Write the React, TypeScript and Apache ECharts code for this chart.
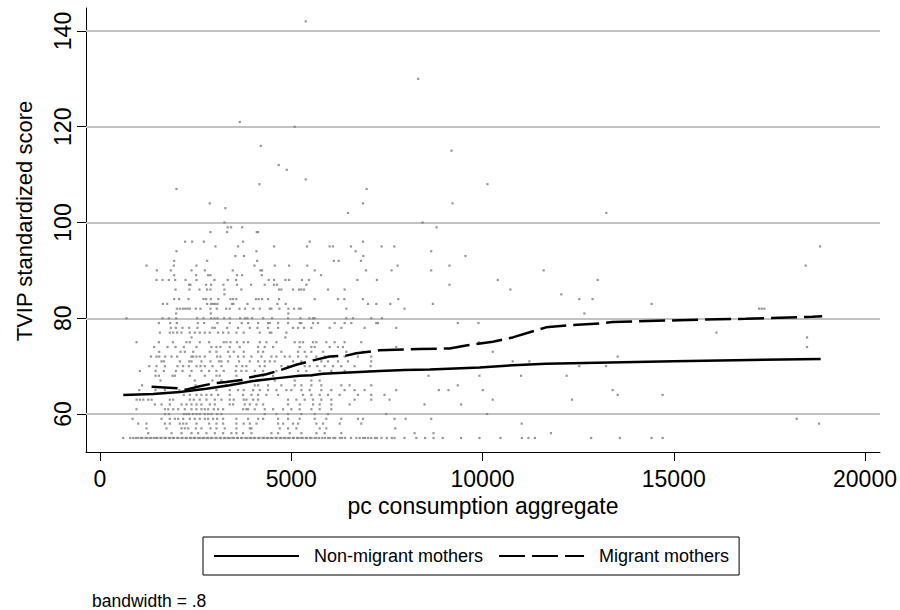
import React, { useEffect, useRef } from "react";
import * as echarts from "echarts";

const xTicks = [0, 5000, 10000, 15000, 20000];
const yTicks = [60, 80, 100, 120, 140];

const nonMigrantX = [610, 1390, 2090, 2780, 3390, 3790, 4000, 4650, 5220, 5530, 5830, 7310, 7960, 8620, 9920, 10790, 11660, 13000, 15000, 17000, 18840];
const nonMigrantY = [64.0, 64.2, 64.6, 65.3, 66.0, 66.6, 66.9, 67.5, 68.0, 68.1, 68.4, 69.0, 69.2, 69.3, 69.7, 70.2, 70.5, 70.7, 71.0, 71.3, 71.5];

const migrantX = [1350, 2090, 2250, 2610, 2960, 3300, 3700, 3870, 4350, 4650, 5130, 5570, 6000, 6440, 6700, 7310, 8350, 9140, 9570, 10270, 10790, 11660, 12360, 13050, 13400, 15140, 16880, 18620, 18880];
const migrantY = [65.7, 65.35, 65.1, 65.8, 66.4, 66.7, 67.1, 67.6, 68.3, 69.0, 70.3, 71.2, 72.0, 72.2, 72.7, 73.3, 73.6, 73.7, 74.3, 75.1, 76.0, 78.1, 78.6, 78.9, 79.2, 79.6, 79.9, 80.3, 80.4];

const rowScores = [55, 56, 57, 58, 59, 60, 61, 62, 63, 64, 65, 66, 67, 68, 69, 70, 71, 72, 73, 74, 75, 76, 77, 78, 79, 80, 81, 82, 83, 84, 85, 86, 87, 88, 89, 90, 91, 92, 93, 94];
const rowIncomes = [
  [608, 790, 870, 940, 1000, 1070, 1110, 1190, 1230, 1300, 1340, 1410, 1470, 1500, 1580, 1610, 1690, 1720, 1800, 1840, 1910, 1940, 2020, 2050, 2130, 2160, 2240, 2270, 2350, 2390, 2460, 2490, 2570, 2610, 2680, 2720, 2790, 2830, 2900, 2940, 3020, 3050, 3130, 3160, 3240, 3280, 3350, 3390, 3460, 3500, 3580, 3610, 3690, 3720, 3800, 3840, 3910, 3950, 4020, 4060, 4140, 4170, 4250, 4290, 4360, 4400, 4470, 4510, 4590, 4620, 4700, 4740, 4810, 4850, 4920, 4960, 5040, 5070, 5150, 5190, 5260, 5300, 5380, 5410, 5490, 5530, 5610, 5660, 5730, 5810, 5880, 5960, 6010, 6100, 6150, 6270, 6330, 6410, 6560, 6700, 6790, 6880, 6930, 7010, 7090, 7190, 7240, 7360, 7500, 7630, 7700, 7960, 8270, 8500, 8720, 8960, 9440, 9920, 10470, 11030, 11200, 11370, 12840, 13590, 14420, 14710],
  [1262, 1871, 2132, 2393, 2567, 2784, 3002, 3219, 3436, 3567, 3741, 3960, 4482, 4656, 4961, 5265, 5657, 5874, 6309, 8224, 8719, 11790],
  [1217, 1740, 2132, 2219, 2306, 2506, 2653, 2888, 3045, 3262, 3567, 3917, 3960, 4700, 4917, 5135, 5744, 5918, 7719],
  [1000, 1217, 1697, 1827, 2088, 2175, 2262, 2523, 2854, 3045, 3219, 3567, 3758, 3917, 4091, 4656, 4787, 5048, 5178, 5657, 5831, 6266, 6831, 11025, 18797],
  [852, 1610, 1827, 1957, 2045, 2175, 2349, 2479, 2610, 2741, 2828, 2958, 3062, 3219, 3567, 3873, 4134, 4265, 4656, 4917, 5222, 5613, 5918, 6309, 6744, 6875, 7701, 7989, 8659, 18214],
  [1697, 1801, 2192, 2262, 2332, 2436, 2523, 2610, 2741, 2828, 2914, 3062, 3175, 4308, 4613, 4917, 5265, 5613, 5961, 7484, 10120],
  [956, 1697, 1784, 1914, 2045, 2219, 2393, 2523, 2653, 2741, 2828, 2975, 3088, 3219, 3741, 3828, 3873, 4047, 4308, 4526, 4787, 5004, 5222, 5526, 5744, 6048],
  [1436, 1610, 1827, 2132, 2262, 2393, 2523, 2653, 2871, 3002, 3393, 3480, 3784, 3917, 4091, 4265, 4917, 5222, 5570, 5744, 6048, 6527, 8485, 9442],
  [957, 1044, 1131, 1262, 1349, 1827, 1914, 2349, 2453, 2610, 2784, 3002, 3175, 3393, 3497, 3758, 3830, 4004, 4134, 4917, 5135, 5352, 5570, 5787, 6048, 6657, 7092, 7571, 10268, 12339],
  [2192, 2349, 2523, 2653, 2784, 2914, 3088, 3393, 3741, 3960, 4134, 4352, 4656, 5309, 5526, 5744, 5961, 6266, 6744, 7092, 7440, 13534, 14708],
  [1027, 1453, 1697, 2071, 2262, 3045, 3393, 3610, 3758, 4004, 4178, 4395, 4613, 4874, 5004, 5265, 5483, 5787, 6048, 6396, 6657, 6918, 7745, 8859, 9111, 10007, 13403],
  [1100, 2500, 3300, 4047, 4134, 4395, 4743, 5091, 5265, 5526, 5787, 6309, 6527, 7092, 9355],
  [1583, 2479, 2941, 3175, 4569, 5091, 5526, 5744],
  [1453, 1540, 1897, 1957, 2349, 2741, 3045, 3132, 3567, 4047, 4265, 4526, 5526, 8589, 9920, 11008, 12199],
  [1043, 1453, 1671, 1984, 2158, 2393, 2653, 2854, 3045, 3236, 3550, 3697, 3828, 4047, 4265, 4613, 5178, 5396, 5744, 6048, 6396, 7049, 7440],
  [1288, 1479, 1697, 2027, 2175, 2323, 2523, 2627, 2741, 2941, 3175, 3567, 3723, 3828, 4178, 4308, 4743, 4917, 5352, 5483, 5683, 5874, 6092, 6309, 6657, 7075, 12530, 13229],
  [1610, 1671, 2088, 2332, 2393, 2653, 2888, 3115, 3175, 3350, 3636, 3917, 4134, 4308, 4439, 4569, 5048, 5265, 5787, 5961, 6222, 6483, 7092, 10790, 11225],
  [1331, 1479, 1549, 1705, 1871, 2018, 2393, 2436, 2523, 2610, 2741, 3062, 3149, 3393, 3610, 3758, 3960, 4221, 4482, 4613, 4830, 4961, 5178, 5396, 5657, 5874, 6092, 6396, 6744, 7092, 13534],
  [1549, 2106, 2219, 2436, 2871, 3045, 3350, 3497, 3758, 4134, 4265, 4743, 5178, 5352, 5526, 5831, 6440, 6875, 10268],
  [1418, 1766, 1975, 2192, 2523, 2914, 3045, 3149, 3393, 3654, 4134, 4308, 4526, 5222, 5526, 5613, 6005, 6222, 6353, 7745, 18484],
  [956, 1540, 1905, 2262, 2349, 2610, 2854, 3236, 3306, 3411, 3584, 3758, 3872, 4178, 4352, 4613, 5091, 5222, 5309, 5570, 5657, 5918, 6135, 6396, 6831, 9903],
  [2393, 4847, 18484],
  [1566, 1827, 1914, 2018, 2132, 2349, 2479, 2610, 2741, 2871, 3088, 3219, 3358, 3567, 3758, 4178, 4439, 4482, 4874, 16117],
  [1853, 1984, 2158, 2332, 2549, 2940, 3002, 3323, 3610, 3917, 4117, 4395, 4656, 5048, 5178, 5335, 5526, 6005, 6309, 6918, 7745],
  [1540, 1836, 2010, 2558, 2723, 3071, 3393, 3706, 3873, 4134, 4395, 4439, 4656, 4917, 5222, 5265, 5570, 5700, 6135, 6396, 6570, 7223, 7266, 9355, 9894],
  [695, 1636, 1801, 1992, 2540, 2706, 2906, 2993, 3071, 3245, 3393, 3663, 3793, 3854, 3977, 4265, 4500, 4917, 5240, 5474, 5570, 5613, 6440, 6614, 7092, 7370],
  [1992, 2897, 4924, 12664],
  [2010, 2088, 2166, 2227, 2288, 2349, 2506, 2627, 2888, 3054, 3297, 3393, 3645, 3793, 4012, 4178, 4439, 4482, 4691, 4926, 5074, 5196, 5248, 6440, 7962, 17231, 17300, 17370],
  [1644, 1757, 2801, 2906, 2958, 3010, 3071, 3454, 3489, 3856, 4638, 4856, 7007, 7225, 7590, 8702, 14421],
  [1940, 2070, 2314, 2706, 2775, 2897, 3097, 3411, 3480, 3567, 4082, 4151, 4238, 4395, 4682, 5614, 6223, 6388, 6875, 7798, 12530, 12878],
  [3254, 12060],
  [1975, 2340, 2601, 2801, 2888, 3254, 3697, 4682, 4742, 5048, 5203, 5264, 5334, 5961, 6397, 10729],
  [2332, 2366, 2775, 2906, 3228, 3584, 3951, 4308, 4551, 4630, 5396, 9137],
  [1479, 1636, 1801, 1966, 2236, 2523, 2993, 3341, 3558, 4412, 4551, 4848, 4943, 5280, 5462, 6728, 7240, 10399, 13012],
  [1940, 2514, 2828, 2888, 3584, 3715, 4230, 5778],
  [1488, 1853, 2393, 2741, 3471, 4195, 4237, 5614, 6954, 7624, 8659, 11599],
  [1218, 1931, 2523, 4039, 4569, 4943, 5420, 7781, 9137, 18449],
  [1940, 2801, 4108, 6115, 6240, 6823],
  [3541, 3767, 6884, 9555],
  [2001, 4090, 6684, 8659],
];

const scatteredPoints = [
  [5379, 142], [8320, 130], [3655, 121], [5091, 120], [4204, 116], [9190, 115], [4674, 112], [4883, 111],
  [5379, 109], [4170, 108], [10130, 108], [2001, 107], [6971, 107], [2871, 104], [9217, 104], [6875, 104],
  [3280, 103], [13237, 102], [6483, 102], [3254, 100], [8433, 100], [3341, 99], [3428, 99], [3715, 99],
  [8799, 99], [2888, 98], [3323, 98], [4099, 98], [4134, 98], [2227, 96], [2410, 96], [2714, 96],
  [3741, 96], [5483, 96], [6875, 96], [3019, 95], [3610, 95], [4551, 95], [5413, 95], [6005, 95],
  [6092, 95], [6562, 95], [7363, 95], [7694, 95], [18825, 95],
];

export default function App() {
  const ref = useRef<HTMLDivElement>(null);
  useEffect(() => {
    document.body.style.margin = "0";
    const chart = echarts.init(ref.current as HTMLDivElement, null, { renderer: "svg" });
    const pts: number[][] = [];
    rowScores.forEach((s, i) => rowIncomes[i].forEach((x) => pts.push([x, s])));
    scatteredPoints.forEach((p) => pts.push(p));
    const font = "'Liberation Sans', Arial, Helvetica, sans-serif";
    const nonMig = nonMigrantX.map((x, i) => [x, nonMigrantY[i]]);
    const mig = migrantX.map((x, i) => [x, migrantY[i]]);
    chart.setOption({
      animation: false,
      textStyle: { fontFamily: font },
      grid: { left: 86, right: 19, top: 8, bottom: 158, containLabel: false },
      xAxis: {
        type: "value",
        min: -365,
        max: 20390,
        axisLine: { show: true, onZero: false, lineStyle: { color: "#000", width: 1 } },
        axisTick: { show: true, length: 9, customValues: xTicks, lineStyle: { color: "#000", width: 1 } },
        axisLabel: {
          customValues: xTicks,
          formatter: (v: number) => String(v),
          margin: 15,
          fontSize: 23,
          color: "#000",
          fontFamily: font,
        },
        splitLine: { show: false },
        name: "pc consumption aggregate",
        nameLocation: "middle",
        nameGap: 35,
        nameTextStyle: { fontSize: 23, color: "#000", fontFamily: font },
      },
      yAxis: {
        type: "value",
        min: 52.07,
        max: 144.8,
        axisLine: { show: true, onZero: false, lineStyle: { color: "#000", width: 1 } },
        axisTick: { show: true, length: 9, customValues: yTicks, lineStyle: { color: "#000", width: 1 } },
        axisLabel: {
          customValues: yTicks,
          formatter: (v: number) => String(v),
          rotate: 90,
          margin: 12,
          fontSize: 23,
          color: "#000",
          fontFamily: font,
        },
        splitLine: { show: false },
        name: "TVIP standardized score",
        nameLocation: "middle",
        nameRotate: 90,
        nameGap: 51,
        nameTextStyle: { fontSize: 22, color: "#000", fontFamily: font, padding: [0, 0, 0, 18] },
      },
      legend: {
        left: 203,
        top: 537,
        orient: "horizontal",
        data: ["Non-migrant mothers", "Migrant mothers"],
        itemWidth: 85,
        itemHeight: 20,
        itemGap: 15,
        padding: [10, 10, 10, 10],
        borderColor: "#000",
        borderWidth: 1,
        borderRadius: 0,
        selectedMode: false,
        itemStyle: { color: "rgba(0,0,0,0)", borderWidth: 0, opacity: 0 },
        textStyle: { fontSize: 18, fontFamily: font, color: "#000", padding: [0, 0, 0, 10] },
      },
      series: [
        {
          type: "scatter",
          name: "scores",
          data: pts,
          symbol: "rect",
          symbolSize: 2.2,
          itemStyle: { color: "#7c7c7c" },
          silent: true,
          z: 3,
          markLine: {
            silent: true,
            symbol: ["none", "none"],
            label: { show: false },
            lineStyle: { color: "#c2c2c2", width: 2, type: "solid" },
            z: 1,
            data: yTicks.map((v) => ({ yAxis: v })),
          },
        },
        {
          type: "line",
          name: "Non-migrant mothers",
          data: nonMig,
          symbol: "none",
          showSymbol: false,
          silent: true,
          itemStyle: { color: "#000" },
          lineStyle: { color: "#000", width: 2.5 },
          z: 4,
        },
        {
          type: "line",
          name: "Migrant mothers",
          data: mig,
          symbol: "none",
          showSymbol: false,
          silent: true,
          itemStyle: { color: "#000" },
          lineStyle: { color: "#000", width: 2.5, type: [26, 7] },
          z: 4,
        },
      ],
      graphic: [
        {
          type: "text",
          left: 92,
          top: 592,
          style: { text: "bandwidth = .8", fontSize: 17.5, fontFamily: font, fill: "#000" },
        },
      ],
    });
    return () => chart.dispose();
  }, []);
  return <div ref={ref} style={{ width: 900, height: 610 }} />;
}
